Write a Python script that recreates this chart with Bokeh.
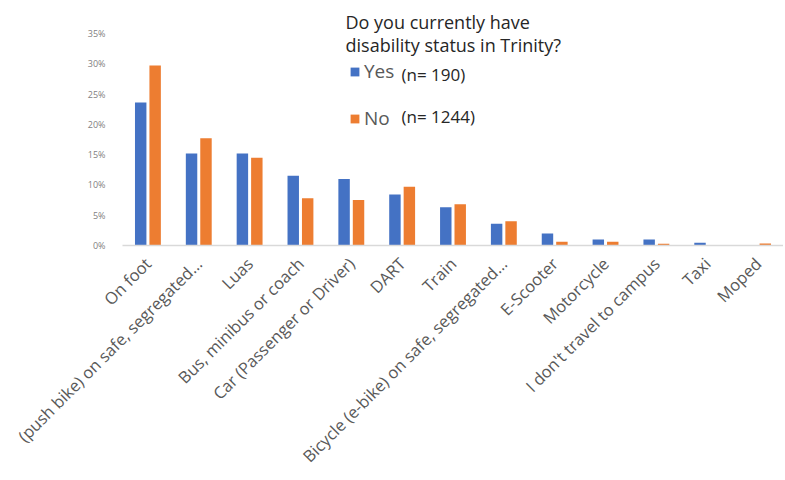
import math
from bokeh.plotting import figure
from bokeh.models import (ColumnDataSource, FactorRange, Range1d, FixedTicker,
                          PrintfTickFormatter, Legend, LegendItem, Label)
from bokeh.transform import dodge
from bokeh.embed import file_html
from bokeh.resources import INLINE

categories = [
    "On foot",
    "(push bike) on safe, segregated...",
    "Luas",
    "Bus, minibus or coach",
    "Car (Passenger or Driver)",
    "DART",
    "Train",
    "Bicycle (e-bike) on safe, segregated...",
    "E-Scooter",
    "Motorcycle",
    "I don't travel to campus",
    "Taxi",
    "Moped",
]
yes_pct = [23.6, 15.2, 15.2, 11.5, 11.0, 8.4, 6.3, 3.6, 2.0, 1.0, 1.0, 0.45, 0.0]
no_pct = [29.7, 17.7, 14.5, 7.8, 7.5, 9.7, 6.8, 4.0, 0.6, 0.6, 0.3, 0.0, 0.35]
y_ticks = [0, 5, 10, 15, 20, 25, 30, 35]
legend_title = ["Do you currently have", "disability status in Trinity?"]
series_names = ["Yes", "No"]
series_counts = ["(n= 190)", "(n= 1244)"]

FONT = "Open Sans"
BLUE = "#4472C4"
ORANGE = "#ED7D31"

src = ColumnDataSource(dict(cat=categories, yes=yes_pct, no=no_pct))

p = figure(
    width=783, height=478,
    x_range=FactorRange(*categories, range_padding=0),
    y_range=Range1d(0, 38.8),
    output_backend="svg", toolbar_location=None,
    min_border_left=122, min_border_right=0, min_border_top=10, min_border_bottom=233,
)

r_yes = p.vbar(x=dodge("cat", -0.142, range=p.x_range), top="yes", width=0.225,
               source=src, fill_color=BLUE, line_color=None)
r_no = p.vbar(x=dodge("cat", 0.142, range=p.x_range), top="no", width=0.225,
              source=src, fill_color=ORANGE, line_color=None)

p.outline_line_color = None
p.xgrid.visible = False
p.ygrid.visible = False

p.xaxis.axis_line_color = "#d9d9d9"
p.xaxis.axis_line_width = 1.5
p.xaxis.major_tick_line_color = None
p.xaxis.minor_tick_line_color = None
p.xaxis.major_label_orientation = math.pi / 4
p.xaxis.major_label_text_font = FONT
p.xaxis.major_label_text_font_size = "16.5px"
p.xaxis.major_label_text_color = "#595959"
p.xaxis.major_label_standoff = 9

p.yaxis.ticker = FixedTicker(ticks=y_ticks)
p.yaxis.formatter = PrintfTickFormatter(format="%d%%")
p.yaxis.axis_line_color = None
p.yaxis.major_tick_line_color = None
p.yaxis.minor_tick_line_color = None
p.yaxis.major_label_text_font = FONT
p.yaxis.major_label_text_font_size = "9px"
p.yaxis.major_label_text_color = "#7f7f7f"
p.yaxis.major_label_standoff = 11

legend = Legend(
    items=[LegendItem(label=series_names[0], renderers=[r_yes]),
           LegendItem(label=series_names[1], renderers=[r_no])],
    location=(227, 114), orientation="vertical",
    padding=0, margin=0, spacing=21,
    glyph_width=11, glyph_height=11, label_standoff=4, label_height=20,
    label_text_font=FONT, label_text_font_size="19px", label_text_color="#595959",
    border_line_color=None, background_fill_alpha=0,
)
p.add_layout(legend)

for txt, yv in zip(legend_title, [36.96, 33.17]):
    p.add_layout(Label(x=4.386, y=yv, text=txt, text_font=FONT,
                       text_font_size="18px", text_color="#262626",
                       text_baseline="middle", text_align="left"))
for txt, yv in zip(series_counts, [28.2, 21.3]):
    p.add_layout(Label(x=5.487, y=yv, text=txt, text_font=FONT,
                       text_font_size="17px", text_color="#262626",
                       text_baseline="middle", text_align="left"))

open("out.html", "w").write(file_html(p, INLINE))
